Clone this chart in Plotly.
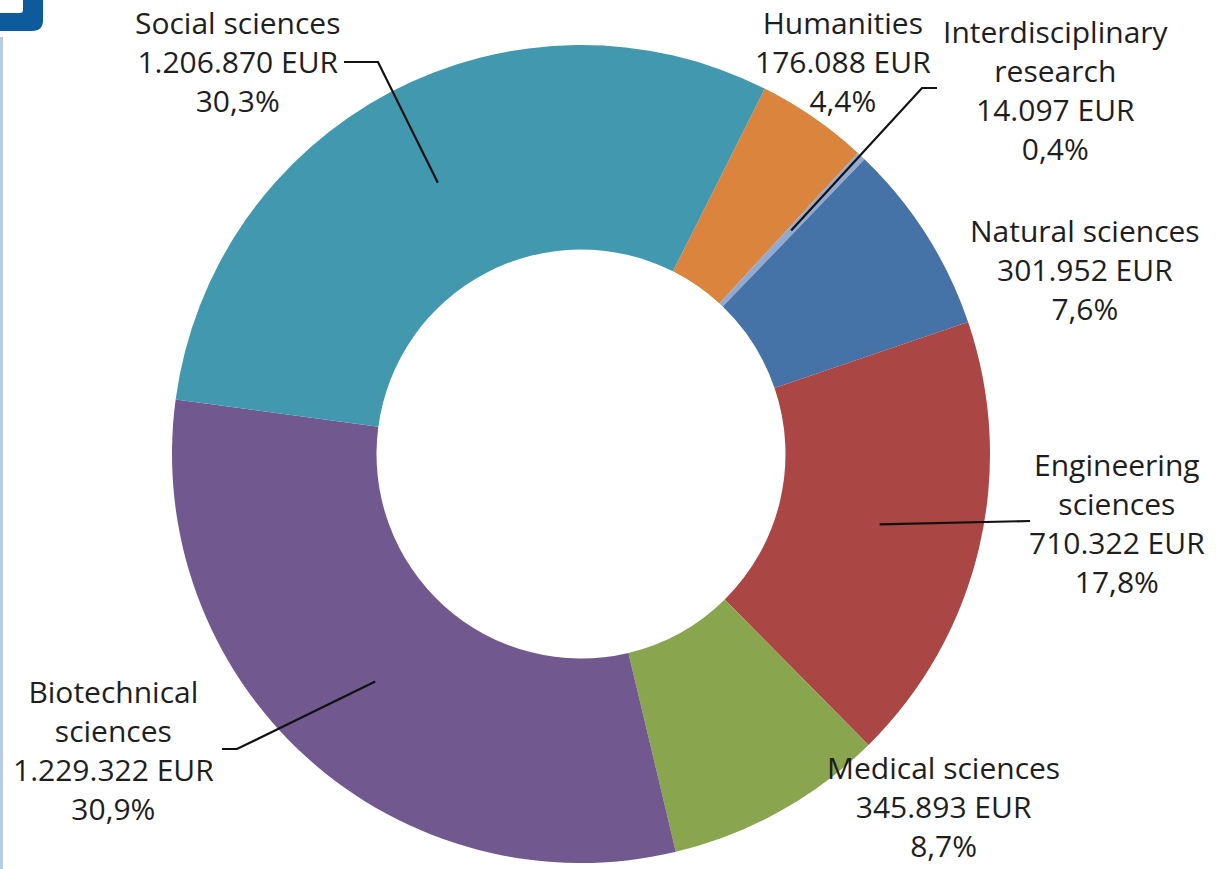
import math
import plotly.graph_objects as go

# ---- data ----
categories = ["Humanities", "Interdisciplinary research", "Natural sciences",
              "Engineering sciences", "Medical sciences", "Biotechnical sciences",
              "Social sciences"]
values = [176088, 14097, 301952, 710322, 345893, 1229322, 1206870]
label_names = ["Humanities", "Interdisciplinary<br>research", "Natural sciences",
               "Engineering<br>sciences", "Medical sciences", "Biotechnical<br>sciences",
               "Social sciences"]
colors = ["#DB843D", "#93A9CF", "#4572A7", "#AA4643", "#89A54E", "#71588F", "#4198AF"]

W, H = 1221, 869
CX, CY, R = 581, 454, 409       # pie centre and radius in pixels
ROT = 26.7                      # degrees clockwise from 12 o'clock
HOLE = 0.5

def px(x):
    return x / W

def py(y):
    return 1 - y / H

total = sum(values)

def fmt_eur(v):
    return f"{v:,}".replace(",", ".") + " EUR"

def fmt_pct(v):
    return f"{100 * v / total:.1f}".replace(".", ",") + "%"

fig = go.Figure(go.Pie(
    labels=categories, values=values, hole=HOLE, sort=False,
    direction="clockwise", rotation=ROT,
    marker=dict(colors=colors, line=dict(width=0)),
    textinfo="none", hoverinfo="label+value+percent", showlegend=False,
    domain=dict(x=[px(CX - R), px(CX + R)], y=[py(CY + R), py(CY - R)]),
))

# label layout positions (pixel centres of text blocks)
label_pos = {
    "Humanities": (843, 62),
    "Interdisciplinary research": (1056, 90),
    "Natural sciences": (1085, 270),
    "Engineering sciences": (1117, 523),
    "Medical sciences": (943, 806),
    "Biotechnical sciences": (113, 750),
    "Social sciences": (237, 61),
}
# leader line elbows/ends (layout) for labels that have them
leader_bends = {
    "Social sciences": [(378, 62), (344, 62)],
    "Interdisciplinary research": [(922, 88), (937, 88)],
    "Engineering sciences": [(1030, 521)],
    "Biotechnical sciences": [(237, 749), (222, 749)],
}

annotations = []
shapes = []
cum = 0
for cat, name, v in zip(categories, label_names, values):
    mid = ROT + 360 * (cum + v / 2) / total
    cum += v
    x, y = label_pos[cat]
    annotations.append(dict(
        x=px(x), y=py(y), xref="paper", yref="paper", showarrow=False,
        text=f"{name}<br>{fmt_eur(v)}<br>{fmt_pct(v)}",
        align="center", xanchor="center", yanchor="middle",
        font=dict(family="Open Sans", size=30, color="#1E1E1E"),
    ))
    if cat in leader_bends:
        rr = R * (1 + HOLE) / 2
        sx = CX + rr * math.sin(math.radians(mid))
        sy = CY - rr * math.cos(math.radians(mid))
        pts = [(sx, sy)] + leader_bends[cat]
        path = "M " + " L ".join(f"{px(a):.5f},{py(b):.5f}" for a, b in pts)
        shapes.append(dict(type="path", path=path, xref="paper", yref="paper",
                           line=dict(color="#111111", width=2.2), layer="above"))

# decorative page elements (top-left logo fragment and left strip)
shapes.append(dict(type="path", xref="paper", yref="paper", layer="below",
                   path=f"M {px(0)},{py(0)} L {px(43)},{py(0)} L {px(43)},{py(20)} "
                        f"Q {px(43)},{py(31)} {px(32)},{py(31)} L {px(0)},{py(31)} Z",
                   fillcolor="#0D5A9C", line=dict(width=0)))
shapes.append(dict(type="path", xref="paper", yref="paper", layer="below",
                   path=f"M {px(0)},{py(0)} L {px(23)},{py(0)} L {px(23)},{py(10)} "
                        f"Q {px(23)},{py(13)} {px(20)},{py(13)} L {px(0)},{py(13)} Z",
                   fillcolor="#FFFFFF", line=dict(width=0)))
shapes.append(dict(type="rect", xref="paper", yref="paper", layer="below",
                   x0=px(0), x1=px(3), y0=py(869), y1=py(37),
                   fillcolor="#B9CBE4", line=dict(width=0)))

fig.update_layout(
    width=W, height=H, margin=dict(l=0, r=0, t=0, b=0),
    paper_bgcolor="white", plot_bgcolor="white",
    annotations=annotations, shapes=shapes,
)

fig.write_html("out.html", config={"displayModeBar": False},
               post_script="document.body.style.margin='0';"
                           "document.body.style.overflow='hidden';")
